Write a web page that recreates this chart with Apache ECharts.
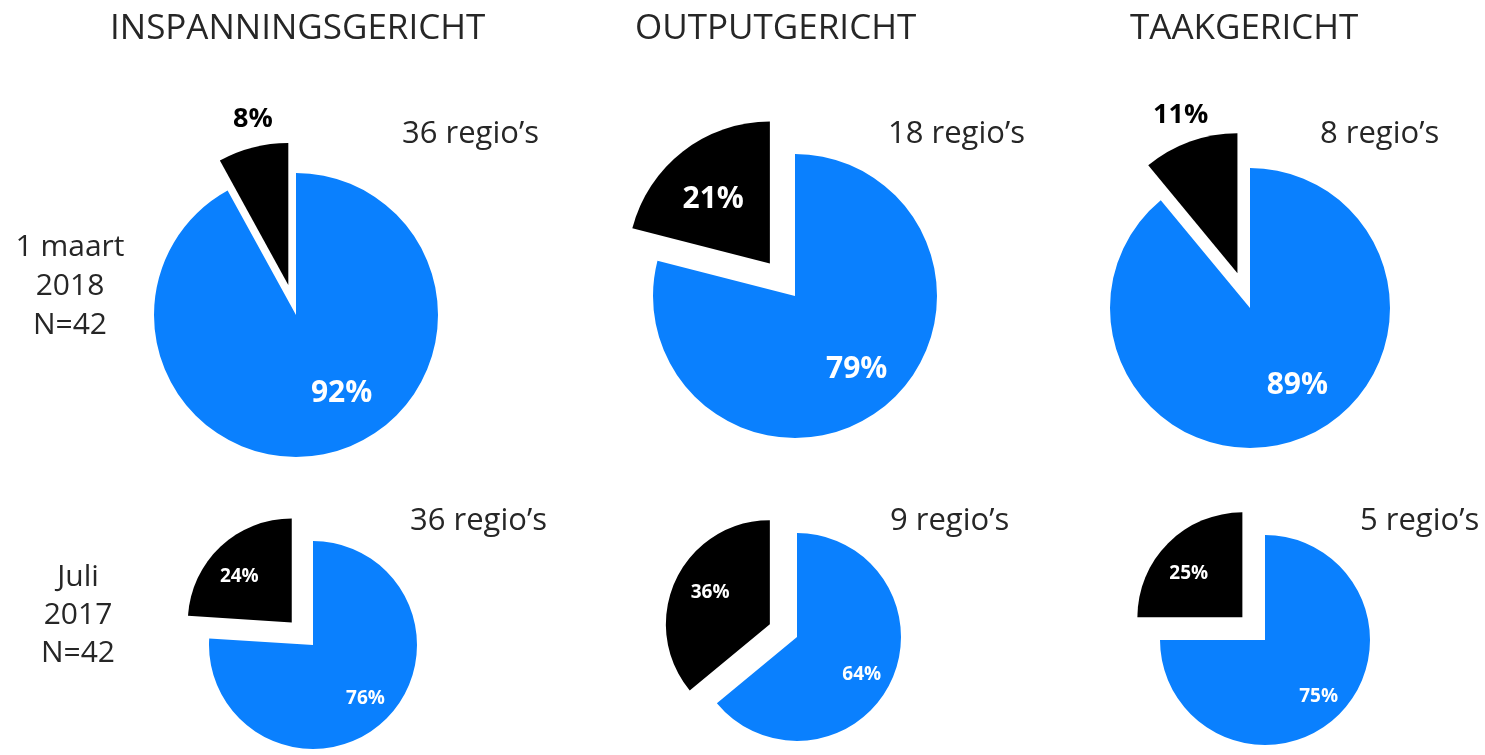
<!DOCTYPE html>
<html>
<head>
<meta charset="utf-8">
<title>Sturing regio's</title>
<script src="https://cdn.jsdelivr.net/npm/echarts@6/dist/echarts.min.js"></script>
<style>
  html, body { margin: 0; padding: 0; background: #fff; }
  #chart { width: 1485px; height: 755px; }
</style>
</head>
<body>
<div id="chart"></div>
<script>
// kolommen en rijen
var categories = ['INSPANNINGSGERICHT', 'OUTPUTGERICHT', 'TAAKGERICHT'];
var rowLabels = ['1 maart\n2018\nN=42', 'Juli\n2017\nN=42'];

// percentages (blauw = ja, zwart = nee)
var blue2018 = [92, 79, 89];
var black2018 = [8, 21, 11];
var blue2017 = [76, 64, 75];
var black2017 = [24, 36, 25];

// aantal regio's per taart
var regios2018 = ['36 regio\u2019s', '18 regio\u2019s', '8 regio\u2019s'];
var regios2017 = ['36 regio\u2019s', '9 regio\u2019s', '5 regio\u2019s'];

var BLUE = '#0a80fe';
var FONT = '"Open Sans", "Noto Sans", sans-serif';
var TEXT = '#262626';

// opmaak per taart (positie, straal, uitsteek, label-verschuiving)
var pies = [
    { c: [296, 315], r: 142, off: 31, k: 0.18, big: true,  outside: true,  shift: [[24, -6], [6, -24]], blue: blue2018[0], black: black2018[0] },
    { c: [795, 296], r: 142, off: 41, k: 0.26, big: true,  outside: false, shift: [[5, 0], [0, 9]],   blue: blue2018[1], black: black2018[1] },
    { c: [1250, 308], r: 140, off: 37, k: 0.28, big: true,  outside: true,  shift: [[16, -10], [-3, -22]], blue: blue2018[2], black: black2018[2] },
    { c: [313, 645], r: 104, off: 31, k: 0.36, big: false, outside: false, shift: [[2, 0], [-2, 8]],  blue: blue2017[0], black: black2017[0] },
    { c: [797, 637], r: 104, off: 30, k: 0.36, big: false, outside: false, shift: [[-2, 6], [7, 0]],  blue: blue2017[1], black: black2017[1] },
    { c: [1265, 640], r: 105, off: 32, k: 0.36, big: false, outside: false, shift: [[1, 4], [-1, 9]], blue: blue2017[2], black: black2017[2] }
];

function labelStyle (p, color) {
    return {
        show: true,
        position: 'inside',
        formatter: '{c}%',
        color: color,
        fontFamily: FONT,
        fontWeight: 'bold',
        fontSize: p.big ? 30 : 19
    };
}

function makeShift (shift, center) {
    return function (params) {
        var s = shift[params.dataIndex];
        var out = { dx: s[0], dy: s[1] };
        if (center) {
            out.align = 'center';
        }
        return out;
    };
}

var series = [];
for (var i = 0; i < pies.length; i++) {
    var p = pies[i];
    // zichtbare taart
    series.push({
        type: 'pie',
        center: p.c,
        radius: [0, p.r],
        startAngle: 90,
        clockwise: true,
        silent: true,
        animation: false,
        selectedMode: 'single',
        selectedOffset: p.off,
        labelLine: { show: false, length: 4, length2: 0 },
        labelLayout: p.outside ? makeShift(p.shift, true) : null,
        data: [
            { value: p.blue, itemStyle: { color: BLUE }, label: { show: false } },
            {
                value: p.black,
                selected: true,
                itemStyle: { color: '#000' },
                label: p.outside ? {
                    show: true, position: 'outside', formatter: '{c}%',
                    color: '#000', fontFamily: FONT, fontWeight: 'bold', fontSize: 27
                } : { show: false }
            }
        ]
    });
    // labels wat verder naar buiten
    series.push({
        type: 'pie',
        center: p.c,
        radius: [p.r * p.k, p.r],
        startAngle: 90,
        clockwise: true,
        silent: true,
        animation: false,
        selectedMode: 'single',
        selectedOffset: p.off,
        itemStyle: { color: 'rgba(0,0,0,0)' },
        labelLine: { show: false },
        labelLayout: makeShift(p.shift, false),
        data: [
            { value: p.blue, label: labelStyle(p, '#fff') },
            { value: p.black, selected: true, label: p.outside ? { show: false } : labelStyle(p, '#fff') }
        ]
    });
}

var graphic = [];
var titleX = [110, 635, 1130];
var regX2018 = [402, 888, 1320];
var regX2017 = [410, 890, 1360];
for (var j = 0; j < categories.length; j++) {
    graphic.push({
        type: 'text', left: titleX[j], top: 12,
        style: { text: categories[j], fill: TEXT, font: 'normal 35px ' + FONT }
    });
    graphic.push({
        type: 'text', left: regX2018[j], top: 119,
        style: { text: regios2018[j], fill: TEXT, font: 'normal 31px ' + FONT }
    });
    graphic.push({
        type: 'text', left: regX2017[j], top: 506,
        style: { text: regios2017[j], fill: TEXT, font: 'normal 31px ' + FONT }
    });
}
graphic.push({
    type: 'text', x: 70, y: 286,
    style: { text: rowLabels[0], fill: TEXT, font: 'normal 30px ' + FONT, lineHeight: 39, align: 'center', verticalAlign: 'middle' }
});
graphic.push({
    type: 'text', x: 78, y: 615,
    style: { text: rowLabels[1], fill: TEXT, font: 'normal 30px ' + FONT, lineHeight: 38, align: 'center', verticalAlign: 'middle' }
});

var chart = echarts.init(document.getElementById('chart'));
chart.setOption({
    backgroundColor: '#fff',
    animation: false,
    graphic: graphic,
    series: series
});
</script>
</body>
</html>
